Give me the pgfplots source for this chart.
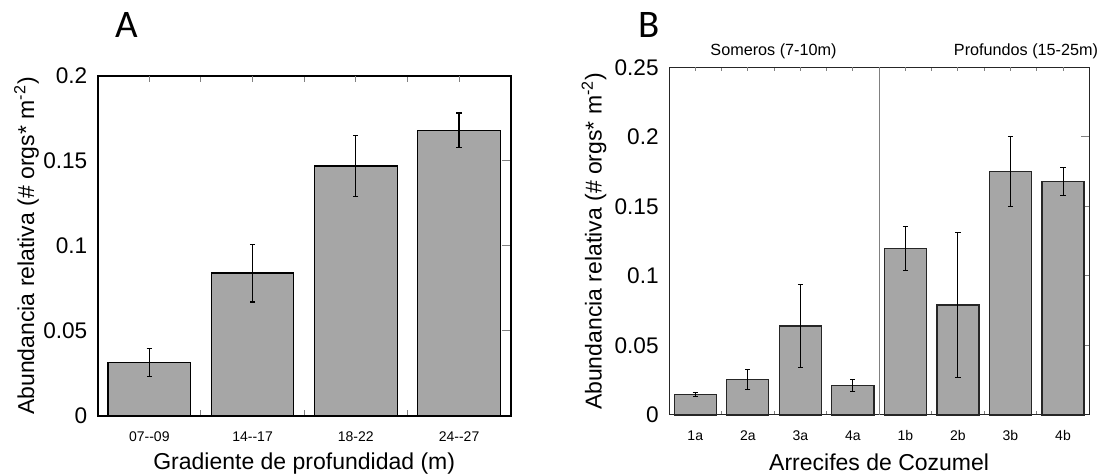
\documentclass[border=0pt]{standalone}
\usepackage{fontspec}
\setmainfont{Liberation Sans}
\newfontfamily\carlito{Carlito}
\usepackage{pgfplots}
\usepackage{pgfplotstable}
\pgfplotsset{compat=1.18}
\definecolor{barfill}{RGB}{166,166,166}

\pgfplotstableread{
x y e
1 0.0313 0.0083
2 0.0841 0.0170
3 0.1470 0.0180
4 0.1680 0.0102
}\dataA

\pgfplotstableread{
x y e
1 0.0149 0.0015
2 0.0257 0.0072
3 0.0640 0.0296
4 0.0211 0.0045
5 0.1200 0.0159
6 0.0792 0.0520
7 0.1750 0.0250
8 0.1680 0.0102
}\dataB

\pgfplotsset{
  common/.style={
    scale only axis,
    anchor=south west,
    tick align=inside,
    ytick pos=right, yticklabel pos=left,
    xtick pos=both, xticklabel pos=bottom,
    yticklabel style={font=\fontsize{11.3}{13}\selectfont, inner sep=0pt, xshift=-5pt},
    xticklabel style={font=\fontsize{7}{8}\selectfont, anchor=base, inner sep=0pt, yshift=-12.9pt},
    label style={font=\fontsize{11.5}{13}\selectfont},
    ymin=0,
  }
}

\begin{document}
\begin{tikzpicture}
\useasboundingbox (0,0) rectangle (551pt,238pt);

\begin{axis}[common,
  at={(48.85pt,30pt)},
  width=206.5pt, height=170pt,
  xmin=0.5, xmax=4.5, ymax=0.2,
  axis line style={line width=1pt},
  major tick length=4.5pt,
  xtick={1.5,2.5,3.5}, xticklabels={},
  xtick style={/pgfplots/major tick length=2.8pt, line width=0.5pt},
  ytick style={line width=0.5pt},
  extra x ticks={1,2,3,4},
  extra x tick labels={07-{}-09,14-{}-17,18-22,24-{}-27},
  extra x tick style={/pgfplots/major tick length=0pt},
  ytick={0,0.05,0.1,0.15,0.2}, yticklabels={0,0.05,0.1,0.15,0.2},
  xlabel={Gradiente de profundidad (m)},
  ylabel={Abundancia relativa (\# orgs* m\textsuperscript{-2})},
  xlabel style={at={(axis description cs:0.5,-0.1574)}, anchor=base},
  ylabel style={at={(axis description cs:-0.1542,0.5)}, anchor=base},
]
\addplot[ybar, bar width=0.8, fill=barfill, draw=black, line width=0.6pt,
  error bars/.cd, y dir=both, y explicit,
  error bar style={line width=0.6pt, black},
  error mark options={rotate=90, mark size=1.3pt, line width=0.6pt, black}]
  table[x=x, y=y, y error=e] {\dataA};
\end{axis}

\begin{axis}[common,
  at={(334.5pt,30.5pt)},
  width=210.15pt, height=173.75pt,
  xmin=0.5, xmax=8.5, ymax=0.25,
  clip=false,
  axis line style={line width=0.5pt, black!85},
  major tick length=4pt,
  xtick={1.5,2.5,3.5,4.5,5.5,6.5,7.5}, xticklabels={},
  xtick style={/pgfplots/major tick length=2pt, line width=0.5pt},
  ytick style={line width=0.5pt},
  extra x ticks={1,2,3,4,5,6,7,8},
  extra x tick labels={1a,2a,3a,4a,1b,2b,3b,4b},
  extra x tick style={/pgfplots/major tick length=0pt},
  ytick={0,0.05,0.1,0.15,0.2,0.25}, yticklabels={0,0.05,0.1,0.15,0.2,0.25},
  xlabel={Arrecifes de Cozumel},
  ylabel={Abundancia relativa (\# orgs* m\textsuperscript{-2})},
  xlabel style={at={(axis description cs:0.5,-0.1583)}, anchor=base},
  ylabel style={at={(axis description cs:-0.1606,0.5)}, anchor=base},
]
\draw[gray, line width=0.6pt] (axis cs:4.5,0) -- (axis cs:4.5,0.25);
\addplot[ybar, bar width=0.8, fill=barfill, draw=black!85, line width=0.6pt,
  error bars/.cd, y dir=both, y explicit,
  error bar style={line width=0.5pt, black},
  error mark options={rotate=90, mark size=1.3pt, line width=0.5pt, black}]
  table[x=x, y=y, y error=e] {\dataB};
\node[anchor=base, font=\fontsize{8.1}{10}\selectfont] at (axis description cs:0.2486,1.0331) {Someros (7-10m)};
\node[anchor=base, font=\fontsize{8.1}{10}\selectfont] at (axis description cs:0.8494,1.0331) {Profundos (15-25m)};
\end{axis}

\node[anchor=base, font=\carlito\fontsize{19.5}{22}\selectfont] at (63.5pt,219.25pt) {A};
\node[anchor=base, font=\carlito\fontsize{19.5}{22}\selectfont] at (324.7pt,219.25pt) {B};
\end{tikzpicture}
\end{document}
